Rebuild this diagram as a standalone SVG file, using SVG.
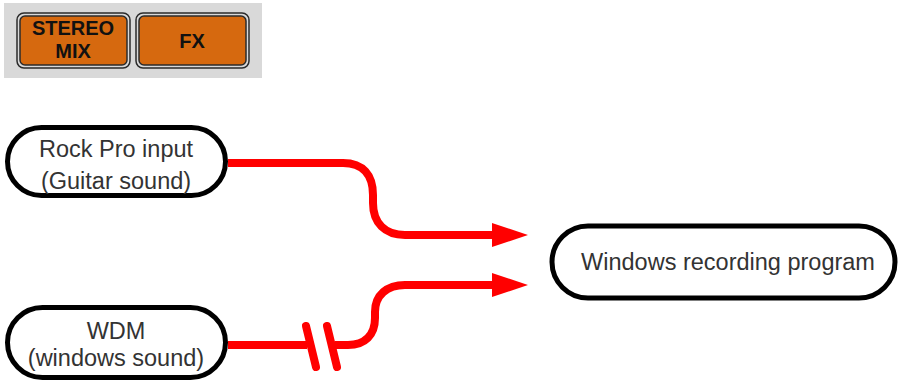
<svg xmlns="http://www.w3.org/2000/svg" width="902" height="383" viewBox="0 0 902 383">
<style>
.node{fill:#fff;stroke:#000;stroke-width:5}
.t{font-family:"Liberation Sans",Arial,sans-serif;font-size:23.5px;fill:#333;text-anchor:middle}
.btn{fill:#d6690f;stroke:#2b2b2b;stroke-width:1.5}
.bt{font-family:"Liberation Sans",Arial,sans-serif;font-weight:bold;font-size:20px;fill:#111;text-anchor:middle}
.wire{fill:none;stroke:#ff0000;stroke-width:8}
.head{fill:#ff0000}
</style>
<g id="panel">
<rect x="4" y="3" width="258" height="75" fill="#d9d9d9"/>
<g id="btn-stereo-mix">
<rect x="17" y="13" width="113" height="55" rx="7" fill="none" stroke="#2b2b2b" stroke-width="1.5"/>
<rect x="20" y="16" width="107" height="49" rx="5" class="btn"/>
<text class="bt" x="73" y="35">STEREO</text>
<text class="bt" x="73" y="58">MIX</text>
</g>
<g id="btn-fx">
<rect x="136" y="13" width="113" height="55" rx="7" fill="none" stroke="#2b2b2b" stroke-width="1.5"/>
<rect x="139" y="16" width="107" height="49" rx="5" class="btn"/>
<text class="bt" x="192" y="48">FX</text>
</g>
</g>
<g id="node-rockpro">
<rect class="node" x="7.5" y="127.5" width="218" height="68" rx="34"/>
<text class="t" x="116" y="157">Rock Pro input</text>
<text class="t" x="116" y="189">(Guitar sound)</text>
</g>
<g id="node-wdm">
<rect class="node" x="7.5" y="307.5" width="218" height="70" rx="35"/>
<text class="t" x="116" y="339">WDM</text>
<text class="t" x="116" y="366">(windows sound)</text>
</g>
<g id="node-windows">
<rect class="node" x="552" y="226" width="343" height="72" rx="36"/>
<text class="t" x="728" y="270">Windows recording program</text>
</g>
<g id="connectors">
<path class="wire" d="M228,163 H343 C363,163 373,175 373,195 V203 C373,223 385,235 405,235 H495"/>
<polygon class="head" points="492,223 528,235 492,247"/>
<path class="wire" d="M228,345 H307"/>
<path class="wire" stroke-linecap="round" d="M306,326 L316,367 M327,326 L337,367"/>
<path class="wire" d="M335,345 H348 C365,345 375,335 375,318 V312 C375,295 387,285 405,285 H495"/>
<polygon class="head" points="492,273 528,285 492,297"/>
</g>
</svg>
